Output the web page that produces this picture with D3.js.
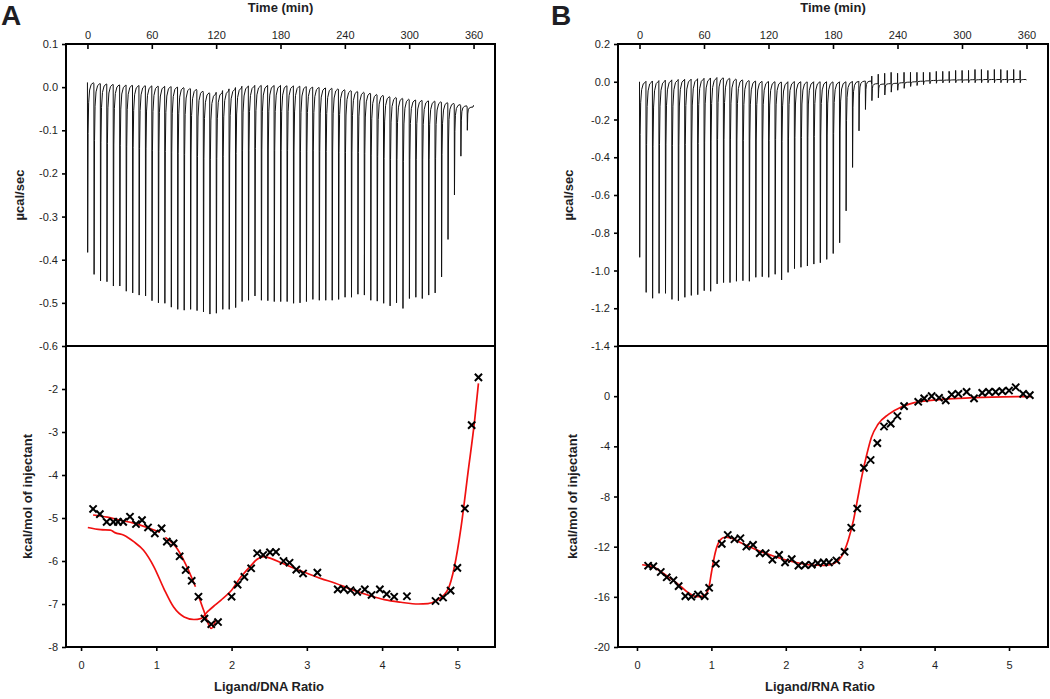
<!DOCTYPE html>
<html><head><meta charset="utf-8">
<script src="https://cdn.jsdelivr.net/npm/d3@7"></script>
<style>
body{margin:0;background:#fff}
text{font-family:"Liberation Sans",Arial,sans-serif;fill:#1e1e24}
</style>
</head><body>
<svg id="chart" width="1050" height="699"></svg>
<script>
// ---------------- DATA ----------------
const injTimes = [0,6,12,18,24,30,36,42,48,54,60,66,72,78,84,90,96,102,108,114,120,126,132,138,144,150,156,162,168,174,180,186,192,198,204,210,216,222,228,234,240,246,252,258,264,270,276,282,288,294,300,306,312,318,324,330,336,342,348,354];

// Panel A thermogram (µcal/sec)
const peakA = [-0.383,-0.434,-0.449,-0.451,-0.461,-0.461,-0.473,-0.477,-0.482,-0.484,
  -0.495,-0.500,-0.501,-0.510,-0.515,-0.517,-0.515,-0.518,-0.521,-0.526,
  -0.524,-0.515,-0.515,-0.511,-0.497,-0.494,-0.484,-0.494,-0.495,-0.497,
  -0.497,-0.497,-0.501,-0.500,-0.497,-0.492,-0.494,-0.494,-0.494,-0.492,
  -0.487,-0.487,-0.480,-0.482,-0.494,-0.496,-0.501,-0.507,-0.500,-0.513,
  -0.490,-0.487,-0.490,-0.482,-0.477,-0.440,-0.353,-0.250,-0.160,-0.100];
const baseA = [0.011,0.009,0.008,0.007,0.006,0.005,0.005,0.004,0.004,0.003,
  0.003,0.002,0.002,0.001,0.000,-0.002,-0.004,-0.008,-0.012,-0.015,
  -0.012,-0.008,-0.004,-0.001,0.002,0.003,0.004,0.004,0.004,0.004,
  0.004,0.003,0.003,0.002,0.001,0.000,-0.001,-0.002,-0.003,-0.005,
  -0.007,-0.009,-0.011,-0.013,-0.016,-0.018,-0.021,-0.023,-0.025,-0.027,
  -0.029,-0.030,-0.031,-0.032,-0.033,-0.035,-0.037,-0.040,-0.043,-0.046];
const endA = [360,-0.042];

// Panel B thermogram (µcal/sec)
const peakB = [-0.930,-1.116,-1.147,-1.121,-1.121,-1.153,-1.160,-1.142,-1.132,-1.128,
  -1.107,-1.110,-1.071,-1.064,-1.064,-1.057,-1.054,-1.057,-1.036,-1.033,
  -1.036,-1.020,-1.050,-1.010,-0.990,-0.983,-0.976,-0.966,-0.959,-0.941,
  -0.910,-0.853,-0.684,-0.454,-0.260,-0.147,-0.100,-0.085,-0.070,-0.055,
  -0.045,-0.035,-0.025,-0.020,-0.015,-0.010,-0.008,-0.006,-0.005,-0.005,
  -0.005,-0.005,-0.005,-0.005,-0.005,-0.005,-0.005,-0.005,-0.005,-0.005];
const upB = [null,null,null,null,null,null,null,null,null,null,
  null,null,null,null,null,null,null,null,null,null,
  null,null,null,null,null,null,null,null,null,null,
  null,null,null,null,null,null,0.030,0.040,0.045,0.050,
  0.045,0.050,0.050,0.050,0.050,0.050,0.055,0.055,0.055,0.060,
  0.060,0.060,0.065,0.065,0.060,0.065,0.065,0.060,0.065,0.060];
const baseB = [0.000,0.002,0.004,0.006,0.008,0.010,0.012,0.013,0.014,0.016,
  0.018,0.020,0.022,0.020,0.016,0.012,0.008,0.005,0.003,0.002,
  0.001,0.000,-0.002,0.000,0.001,0.000,-0.001,0.000,0.000,0.000,
  -0.001,0.000,0.000,0.002,0.004,0.004,-0.010,-0.012,-0.010,-0.008,
  -0.005,-0.002,0.000,0.003,0.005,0.007,0.008,0.009,0.010,0.010,
  0.010,0.011,0.011,0.012,0.012,0.012,0.012,0.012,0.012,0.012];
const endB = [360,0.010];

// Panel A integrated heats (kcal/mol of injectant)
const ratioA = [0.16,0.25,0.34,0.43,0.49,0.56,0.65,0.73,0.81,0.89,0.98,1.07,1.14,1.23,1.31,1.39,1.47,1.56,1.64,1.73,1.82,2.00,2.08,2.17,2.26,2.34,2.42,2.51,2.59,2.69,2.77,2.86,2.95,3.14,3.41,3.49,3.58,3.67,3.77,3.86,3.97,4.06,4.16,4.33,4.71,4.81,4.91,5.00,5.10,5.19,5.28];
const heatA = [-4.79,-4.91,-5.09,-5.09,-5.09,-5.09,-4.97,-5.14,-5.05,-5.22,-5.36,-5.24,-5.55,-5.59,-5.89,-6.21,-6.46,-6.83,-7.34,-7.47,-7.42,-6.83,-6.55,-6.37,-6.17,-5.82,-5.86,-5.80,-5.79,-6.00,-6.04,-6.20,-6.29,-6.27,-6.66,-6.65,-6.68,-6.72,-6.66,-6.79,-6.66,-6.77,-6.83,-6.82,-6.93,-6.85,-6.69,-6.16,-4.78,-2.84,-1.73];
const fitA1x = [0.09,0.26,0.39,0.45,0.57,0.70,0.83,0.97,1.10,1.23,1.37,1.50,1.59,1.68,1.77,1.86,2.00,2.12,2.26,2.34,2.43,2.52,2.66,2.83,3.01,3.19,3.37,3.59,3.81,4.03,4.25,4.48,4.61,4.74,4.88,4.96,5.05,5.14,5.23,5.28];
const fitA1y = [-5.22,-5.27,-5.28,-5.34,-5.40,-5.55,-5.75,-6.14,-6.64,-7.07,-7.30,-7.36,-7.34,-7.18,-7.04,-6.91,-6.68,-6.38,-6.10,-5.96,-5.90,-5.94,-6.04,-6.17,-6.29,-6.41,-6.51,-6.66,-6.79,-6.90,-6.96,-7.00,-6.99,-6.90,-6.64,-6.14,-5.20,-3.96,-2.72,-1.87];
const fitA2x = [0.16,0.35,0.52,0.70,0.88,1.05,1.08,1.12,1.28,1.41,1.52,1.54,1.56,1.63,1.73,1.79];
const fitA2y = [-4.93,-4.98,-5.05,-5.12,-5.22,-5.33,null,-5.45,-5.72,-6.15,-6.60,null,-6.80,-7.15,-7.57,-7.37];

// Panel B integrated heats
const ratioB = [0.15,0.22,0.32,0.40,0.49,0.56,0.65,0.73,0.82,0.91,0.97,1.06,1.14,1.22,1.31,1.39,1.47,1.56,1.65,1.73,1.82,1.91,1.99,2.08,2.17,2.26,2.35,2.43,2.51,2.58,2.68,2.79,2.88,2.96,3.05,3.14,3.23,3.32,3.41,3.50,3.59,3.78,3.86,3.96,4.06,4.15,4.23,4.32,4.43,4.53,4.64,4.73,4.82,4.91,5.00,5.09,5.19,5.28];
const heatB = [-13.52,-13.57,-14.02,-14.44,-14.68,-15.15,-15.94,-15.99,-15.81,-15.94,-15.28,-13.36,-11.78,-11.07,-11.41,-11.33,-11.99,-11.86,-12.52,-12.52,-13.04,-12.65,-13.25,-12.99,-13.52,-13.47,-13.44,-13.31,-13.25,-13.25,-13.10,-12.41,-10.49,-8.96,-5.72,-5.09,-3.74,-2.42,-2.19,-1.58,-0.79,-0.45,-0.18,0.0,-0.13,-0.34,0.13,0.18,0.34,-0.18,0.26,0.34,0.34,0.40,0.45,0.71,0.18,0.08];
const fitBx = [0.07,0.20,0.38,0.56,0.69,0.80,0.89,0.96,1.00,1.05,1.12,1.18,1.27,1.41,1.63,1.85,2.08,2.30,2.53,2.66,2.75,2.84,2.91,2.97,3.02,3.09,3.15,3.24,3.38,3.56,3.78,4.10,4.32,4.77,5.30];
const fitBy = [-13.44,-13.57,-14.23,-15.02,-15.68,-15.99,-15.94,-15.42,-14.10,-12.52,-11.46,-11.25,-11.33,-11.73,-12.31,-12.78,-13.18,-13.44,-13.49,-13.31,-12.78,-11.46,-9.88,-8.04,-6.46,-4.61,-3.29,-2.24,-1.45,-0.84,-0.45,-0.26,-0.18,-0.08,-0.03];

// Tick labels
const timeTicks = [0,60,120,180,240,300,360];
const ratioTicks = [0,1,2,3,4,5];
const powerTicksA = [0.1,0.0,-0.1,-0.2,-0.3,-0.4,-0.5,-0.6];
const powerTicksB = [0.2,0.0,-0.2,-0.4,-0.6,-0.8,-1.0,-1.2,-1.4];
const heatTicksA = [-2,-3,-4,-5,-6,-7,-8];
const heatTicksB = [0,-4,-8,-12,-16,-20];

// ---------------- DRAWING ----------------
const svg = d3.select("#chart");
const TOP = 44, MID = 346, BOT = 647;
const RED = "#f01010";
// injection peak shape template: [minutes after injection, fraction of peak]
const shape = [[0.2,1],[0.6,0.3],[1.1,0.12],[2,0.045],[3.5,0.012],[5.5,0.002]];

function panel(cfg){
  const {left, right} = cfg;
  const xt = d3.scaleLinear().domain([-20,380]).range([left,right]);
  const yt = d3.scaleLinear().domain(cfg.powerDomain).range([MID,TOP]);
  const xr = d3.scaleLinear().domain(cfg.ratioDomain).range([left,right]);
  const yh = d3.scaleLinear().domain(cfg.heatDomain).range([BOT,MID]);
  const g = svg.append("g");

  // thermogram points
  const pts = [];
  injTimes.forEach((t,i)=>{
    const b = cfg.base[i], d = cfg.peak[i];
    pts.push([t,b]);
    if (cfg.up && cfg.up[i] != null) pts.push([t+0.08, cfg.up[i]]);
    shape.forEach(([dt,f]) => pts.push([t+dt, b+(d-b)*f]));
  });
  pts.push(cfg.end);
  g.append("path")
    .attr("d", d3.line().x(d=>xt(d[0])).y(d=>yt(d[1]))(pts))
    .attr("fill","none").attr("stroke","#111").attr("stroke-width",1)
    .attr("stroke-linejoin","round");

  // fit curves
  cfg.fits.forEach(f=>{
    const data = f.x.map((x,i)=>[x,f.y[i]]);
    g.append("path")
      .attr("d", d3.line().defined(d=>d[1]!=null).curve(d3.curveMonotoneX)
        .x(d=>xr(d[0])).y(d=>yh(d[1]))(data))
      .attr("fill","none").attr("stroke",RED).attr("stroke-width",1.7);
  });

  // data crosses
  const s = 3.6;
  g.append("g").selectAll("path").data(cfg.rx.map((x,i)=>[x,cfg.hy[i]])).join("path")
    .attr("d", d=>{const cx=xr(d[0]), cy=yh(d[1]);
      return `M${cx-s},${cy-s}L${cx+s},${cy+s}M${cx-s},${cy+s}L${cx+s},${cy-s}`;})
    .attr("stroke","#000").attr("stroke-width",2).attr("fill","none");

  // frames
  g.append("rect").attr("x",left).attr("y",TOP).attr("width",right-left).attr("height",MID-TOP)
    .attr("fill","none").attr("stroke","#000").attr("stroke-width",2);
  g.append("rect").attr("x",left).attr("y",MID).attr("width",right-left).attr("height",BOT-MID)
    .attr("fill","none").attr("stroke","#000").attr("stroke-width",2);

  const style = sel => {
    sel.select(".domain").remove();
    sel.selectAll("line").attr("stroke","#000").attr("stroke-width",1.6);
    sel.selectAll("text").attr("font-size",11).attr("fill","#1e1e24")
      .style("font-family",'"Liberation Sans",Arial,sans-serif');
  };
  // top time axis (ticks inward)
  g.append("g").attr("transform",`translate(0,${TOP})`)
    .call(d3.axisTop(xt).tickValues(timeTicks).tickSize(-5).tickPadding(5).tickFormat(d3.format("d")))
    .call(style);
  // power axis
  g.append("g").attr("transform",`translate(${left},0)`)
    .call(d3.axisLeft(yt).tickValues(cfg.powerTicks).tickSize(4).tickPadding(4).tickFormat(d=>d.toFixed(1)))
    .call(style);
  // heat axis
  g.append("g").attr("transform",`translate(${left},0)`)
    .call(d3.axisLeft(yh).tickValues(cfg.heatTicks).tickSize(4).tickPadding(4).tickFormat(d=>String(d)))
    .call(style);
  // ratio axis
  g.append("g").attr("transform",`translate(0,${BOT})`)
    .call(d3.axisBottom(xr).tickValues(ratioTicks).tickSize(4).tickPadding(10).tickFormat(d3.format("d")))
    .call(style);

  // titles
  const bold = (sel)=>sel.attr("font-weight","bold").attr("font-size",13);
  g.append("text").text("Time (min)").attr("x",(left+right)/2).attr("y",12)
    .attr("text-anchor","middle").call(bold);
  g.append("text").text("µcal/sec")
    .attr("transform",`translate(${cfg.yTitleX1},${(TOP+MID)/2}) rotate(-90)`)
    .attr("text-anchor","middle").attr("dy","0.35em").call(bold);
  g.append("text").text("kcal/mol of injectant")
    .attr("transform",`translate(${cfg.yTitleX2},${(MID+BOT)/2}) rotate(-90)`)
    .attr("text-anchor","middle").attr("dy","0.35em").call(bold);
  g.append("text").text(cfg.xTitle).attr("x",cfg.xTitleX).attr("y",691)
    .attr("text-anchor","middle").call(bold);
  g.append("text").text(cfg.letter).attr("x",cfg.letterX).attr("y",25)
    .attr("font-weight","bold").attr("font-size",28);
}

panel({left:66, right:495, powerDomain:[-0.6,0.1], ratioDomain:[-0.2,5.5], heatDomain:[-8,-1],
  peak:peakA, base:baseA, up:null, end:endA,
  fits:[{x:fitA1x,y:fitA1y},{x:fitA2x,y:fitA2y}], rx:ratioA, hy:heatA,
  powerTicks:powerTicksA, heatTicks:heatTicksA,
  yTitleX1:19, yTitleX2:27, xTitle:"Ligand/DNA Ratio", xTitleX:269, letter:"A", letterX:1});

panel({left:618, right:1048, powerDomain:[-1.4,0.2], ratioDomain:[-0.255,5.524], heatDomain:[-20,4],
  peak:peakB, base:baseB, up:upB, end:endB,
  fits:[{x:fitBx,y:fitBy}], rx:ratioB, hy:heatB,
  powerTicks:powerTicksB, heatTicks:heatTicksB,
  yTitleX1:568, yTitleX2:572, xTitle:"Ligand/RNA Ratio", xTitleX:820, letter:"B", letterX:551});
</script>
</body></html>
